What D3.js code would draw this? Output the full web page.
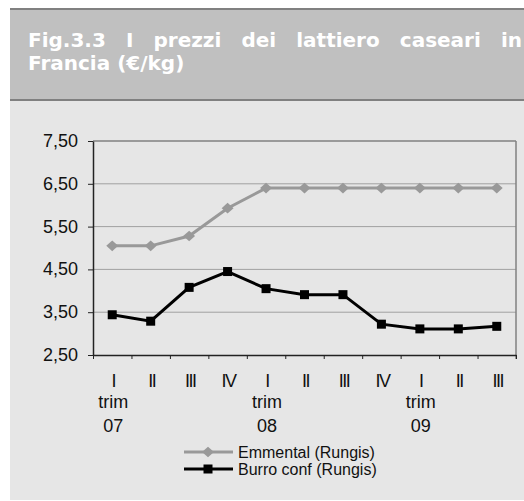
<!DOCTYPE html>
<html>
<head>
<meta charset="utf-8">
<script src="https://cdn.jsdelivr.net/npm/d3@7"></script>
<style>
  html, body { margin: 0; padding: 0; background: #ffffff; }
  svg { display: block; }
</style>
</head>
<body>
<svg id="chart" width="524" height="501"></svg>
<script>
// ---- data ----
const quarters = ["I", "II", "III", "IV", "I", "II", "III", "IV", "I", "II", "III"];
const yearLabels = ["07", "", "", "", "08", "", "", "", "09", "", ""];
const emmental = [5.05, 5.05, 5.28, 5.93, 6.40, 6.40, 6.40, 6.40, 6.40, 6.40, 6.40];
const burro = [3.44, 3.29, 4.08, 4.45, 4.05, 3.91, 3.91, 3.22, 3.11, 3.11, 3.17];
const yTicks = [2.5, 3.5, 4.5, 5.5, 6.5, 7.5];
const seriesNames = ["Emmental (Rungis)", "Burro conf (Rungis)"];
const titleLines = ["Fig.3.3 I prezzi dei lattiero caseari in", "Francia (€/kg)"];

const svg = d3.select("#chart");
const W = 524, H = 501;

// panel backgrounds
svg.append("rect").attr("x", 10).attr("y", 8).attr("width", W - 10).attr("height", 2).attr("fill", "#808080");
svg.append("rect").attr("x", 10).attr("y", 10).attr("width", W - 10).attr("height", 89).attr("fill", "#c0c0c0");
svg.append("rect").attr("x", 10).attr("y", 99).attr("width", W - 10).attr("height", 2).attr("fill", "#808080");
svg.append("rect").attr("x", 10).attr("y", 101).attr("width", W - 10).attr("height", 399).attr("fill", "#e6e6e6");

// title (justified first line)
const tFont = "'DejaVu Sans', Verdana, sans-serif";
const t1 = svg.append("g");
const words = titleLines[0].split(" ");
const tmp = words.map(w => t1.append("text").attr("font-family", tFont).attr("font-weight", "bold")
  .attr("font-size", 20).attr("fill", "#ffffff").attr("y", 47).text(w));
const widths = tmp.map(t => t.node().getComputedTextLength());
const startX = 28, endX = 522;
const totalW = widths.reduce((a, b) => a + b, 0);
const gap = (endX - startX - totalW) / (words.length - 1);
let cx = startX;
tmp.forEach((t, i) => { t.attr("x", cx); cx += widths[i] + gap; });
svg.append("text").attr("font-family", tFont).attr("font-weight", "bold").attr("font-size", 20)
  .attr("fill", "#ffffff").attr("x", startX).attr("y", 70).text(titleLines[1]);

// scales
const x = d3.scaleBand().domain(d3.range(quarters.length)).range([93, 516]).padding(0);
const y = d3.scaleLinear().domain([2.5, 7.5]).range([355, 141]);
const lFont = "'Liberation Sans', Arial, sans-serif";

// gridlines
svg.append("g").selectAll("line").data(yTicks.filter(v => v > 2.5 && v < 7.5)).join("line")
  .attr("x1", 93).attr("x2", 516).attr("y1", d => y(d)).attr("y2", d => y(d))
  .attr("stroke", "#a0a0a0").attr("stroke-width", 1);
// top / right frame
svg.append("line").attr("x1", 93).attr("x2", 516).attr("y1", y(7.5)).attr("y2", y(7.5)).attr("stroke", "#808080").attr("stroke-width", 1.5);
svg.append("line").attr("x1", 516).attr("x2", 516).attr("y1", y(7.5)).attr("y2", 359).attr("stroke", "#808080").attr("stroke-width", 1.5);

// left axis
const yAxis = svg.append("g").attr("transform", "translate(93,0)")
  .call(d3.axisLeft(y).tickValues(yTicks).tickSize(5).tickSizeOuter(0)
    .tickFormat(d => d3.format(".2f")(d).replace(".", ",")));
yAxis.select(".domain").attr("stroke", "#222").attr("stroke-width", 1.5);
yAxis.selectAll(".tick line").attr("stroke", "#222");
yAxis.selectAll("text").attr("font-family", lFont).attr("font-size", 18).attr("fill", "#111").attr("x", -15).attr("dy", "0.3em");

// bottom axis
const xb = d3.scaleLinear().domain([0, quarters.length]).range([93, 516]);
const xAxis = svg.append("g").attr("transform", "translate(0,355)")
  .call(d3.axisBottom(xb).tickValues(d3.range(0, quarters.length + 1)).tickSize(4).tickSizeOuter(0).tickFormat(""));
xAxis.select(".domain").attr("stroke", "#222").attr("stroke-width", 1.5);
xAxis.selectAll(".tick line").attr("stroke", "#222");

// category labels
const lab = svg.append("g").attr("font-family", lFont).attr("font-size", 18).attr("fill", "#111").attr("text-anchor", "middle");
lab.selectAll("text.q").data(quarters).join("text").attr("class", "q")
  .attr("x", (d, i) => x(i) + x.bandwidth() / 2 + 1).attr("y", 387).attr("letter-spacing", -1.5).text(d => d);
lab.selectAll("text.t").data(yearLabels).join("text").attr("class", "t")
  .attr("x", (d, i) => x(i) + x.bandwidth() / 2 + 1).attr("y", 408).text(d => d ? "trim" : "");
lab.selectAll("text.yr").data(yearLabels).join("text").attr("class", "yr")
  .attr("x", (d, i) => x(i) + x.bandwidth() / 2 + 1).attr("y", 432).text(d => d);

// lines
const cxp = i => x(i) + x.bandwidth() / 2;
const line = d3.line().x((d, i) => cxp(i)).y(d => y(d));
const colE = "#999999", colB = "#000000";
svg.append("path").datum(emmental).attr("d", line).attr("fill", "none").attr("stroke", colE).attr("stroke-width", 3);
svg.append("g").selectAll("path").data(emmental).join("path")
  .attr("d", d3.symbol(d3.symbolDiamond2, 90)())
  .attr("transform", (d, i) => `translate(${cxp(i)},${y(d)}) scale(1,0.9)`).attr("fill", colE);
svg.append("path").datum(burro).attr("d", line).attr("fill", "none").attr("stroke", colB).attr("stroke-width", 3);
svg.append("g").selectAll("rect").data(burro).join("rect")
  .attr("x", (d, i) => cxp(i) - 4.5).attr("y", d => y(d) - 4.5).attr("width", 9).attr("height", 9).attr("fill", colB);

// legend
const leg = svg.append("g");
const legY = [452, 469];
const legCols = [colE, colB];
legY.forEach((ly, k) => {
  leg.append("line").attr("x1", 184).attr("x2", 233).attr("y1", ly).attr("y2", ly).attr("stroke", legCols[k]).attr("stroke-width", 3);
  if (k === 0) {
    leg.append("path").attr("d", d3.symbol(d3.symbolDiamond2, 90)()).attr("transform", `translate(208,${ly}) scale(1,0.9)`).attr("fill", colE);
  } else {
    leg.append("rect").attr("x", 203.5).attr("y", ly - 4.5).attr("width", 9).attr("height", 9).attr("fill", colB);
  }
  leg.append("text").attr("x", 238).attr("y", ly + 6).attr("font-family", lFont).attr("font-size", 16)
    .attr("fill", "#111").text(seriesNames[k]);
});
</script>
</body>
</html>
